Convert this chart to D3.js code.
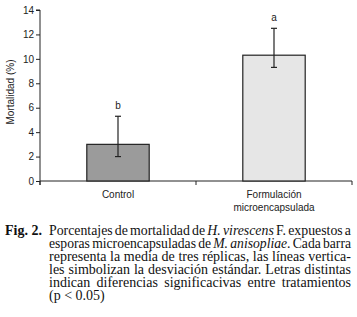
<!doctype html>
<html>
  <head>
    <meta charset="utf-8">
    <script src="https://d3js.org/d3.v7.min.js"></script>
    <style>
      body { margin: 0; background: #fff; }
    </style>
  </head>
  <body>
    <svg id="chart" width="357" height="317"></svg>
    <script>
      var categories = ['Control', 'Formulación\nmicroencapsulada']
      var means = [3.0, 10.3]
      var errLow = [2.0, 9.3]
      var errHigh = [5.3, 12.5]
      var letters = ['b', 'a']
      var barColors = ['#9b9b9b', '#e6e6e6']
      var yTicks = [0, 2, 4, 6, 8, 10, 12, 14]

      // caption lines, *...* = italic
      var captionLines = [
        'Porcentajes de mortalidad de *H. virescens* F. expuestos a',
        'esporas microencapsuladas de *M. anisopliae*. Cada barra',
        'representa la media de tres réplicas, las líneas vertica-',
        'les simbolizan la desviación estándar. Letras distintas',
        'indican diferencias significacivas entre tratamientos',
        '(p < 0.05)'
      ]

      var svg = d3.select('#chart')
      var plotL = 40, plotR = 352, plotT = 10, plotB = 181

      var x = d3.scaleBand().domain(categories).range([plotL, plotR]).padding(0)
      var y = d3.scaleLinear().domain([0, 14]).range([plotB, plotT])
      var barW = x.bandwidth() * 0.4

      var g = svg.append('g').attr('font-family', 'Liberation Sans, Arial, sans-serif')

      // y axis
      var yAxis = g.append('g')
        .attr('transform', 'translate(' + plotL + ',0)')
        .call(d3.axisLeft(y).tickValues(yTicks).tickSize(4).tickPadding(2))
      yAxis.select('.domain').attr('stroke', '#222').attr('d', 'M-4,' + plotT + 'H0V' + (plotB + 4))
      yAxis.selectAll('.tick line').attr('stroke', '#222')
      yAxis.selectAll('.tick text').attr('font-size', 10).attr('fill', '#222').attr('font-family', 'Liberation Sans, Arial, sans-serif')

      // x axis
      var xAxis = g.append('g').attr('transform', 'translate(0,' + plotB + ')')
      xAxis.append('line').attr('x1', plotL).attr('x2', plotR).attr('stroke', '#222')
      var edges = [plotL].concat(categories.map(function (c) { return x(c) + x.bandwidth() }))
      xAxis.selectAll('.xt').data(edges).enter().append('line')
        .attr('x1', function (d) { return d }).attr('x2', function (d) { return d })
        .attr('y1', 0).attr('y2', 4).attr('stroke', '#222')

      categories.forEach(function (c) {
        var t = xAxis.append('text').attr('text-anchor', 'middle').attr('font-size', 10).attr('fill', '#222')
        c.split('\n').forEach(function (s, i) {
          t.append('tspan').attr('x', x(c) + x.bandwidth() / 2).attr('y', 17 + i * 13).text(s)
        })
      })

      // bars
      g.selectAll('.bar').data(categories).enter().append('rect')
        .attr('x', function (d) { return x(d) + x.bandwidth() / 2 - barW / 2 })
        .attr('y', function (d, i) { return y(means[i]) })
        .attr('width', barW)
        .attr('height', function (d, i) { return y(0) - y(means[i]) })
        .attr('fill', function (d, i) { return barColors[i] })
        .attr('stroke', '#222').attr('stroke-width', 1.2)

      // error bars
      categories.forEach(function (c, i) {
        var cx = x(c) + x.bandwidth() / 2
        g.append('line').attr('x1', cx).attr('x2', cx).attr('y1', y(errLow[i])).attr('y2', y(errHigh[i])).attr('stroke', '#222').attr('stroke-width', 1.2)
        ;[errLow[i], errHigh[i]].forEach(function (v) {
          g.append('line').attr('x1', cx - 3).attr('x2', cx + 3).attr('y1', y(v)).attr('y2', y(v)).attr('stroke', '#222').attr('stroke-width', 1.2)
        })
        g.append('text').attr('x', cx).attr('y', y(errHigh[i]) - 7).attr('text-anchor', 'middle')
          .attr('font-size', 10).attr('fill', '#222').text(letters[i])
      })

      // y label
      g.append('text').attr('transform', 'translate(14,92) rotate(-90)')
        .attr('text-anchor', 'middle').attr('font-size', 10).attr('fill', '#222').text('Mortalidad (%)')

      // caption, justified word by word
      var cap = svg.append('g').attr('font-family', 'Liberation Serif, Times New Roman, serif').attr('font-size', 14).attr('fill', '#111')
      cap.append('text').attr('x', 5).attr('y', 235).attr('font-weight', 'bold').text('Fig. 2.')
      var cx0 = 49, cx1 = 351, lineH = 13, minGap = 2.2
      var italic = false
      captionLines.forEach(function (line, li) {
        var words = line.split(' ')
        var nodes = words.map(function (w) {
          var t = cap.append('text').attr('y', 235 + li * lineH)
          var buf = ''
          var flush = function () {
            if (buf) t.append('tspan').attr('font-style', italic ? 'italic' : 'normal').text(buf)
            buf = ''
          }
          for (var k = 0; k < w.length; k++) {
            if (w[k] === '*') { flush(); italic = !italic } else buf += w[k]
          }
          flush()
          return t
        })
        var widths = nodes.map(function (n) { return n.node().getComputedTextLength() })
        var total = d3.sum(widths)
        var last = li === captionLines.length - 1
        var gap = last ? 3.5 : (cx1 - cx0 - total) / (words.length - 1)
        var s = 1
        if (gap < minGap) {
          s = (cx1 - cx0 - minGap * (words.length - 1)) / total
          gap = minGap
          nodes.forEach(function (n, k) {
            n.attr('textLength', widths[k] * s).attr('lengthAdjust', 'spacingAndGlyphs')
          })
        }
        var pos = cx0
        nodes.forEach(function (n, k) {
          n.attr('x', pos)
          pos += widths[k] * s + gap
        })
      })
    </script>
  </body>
</html>
